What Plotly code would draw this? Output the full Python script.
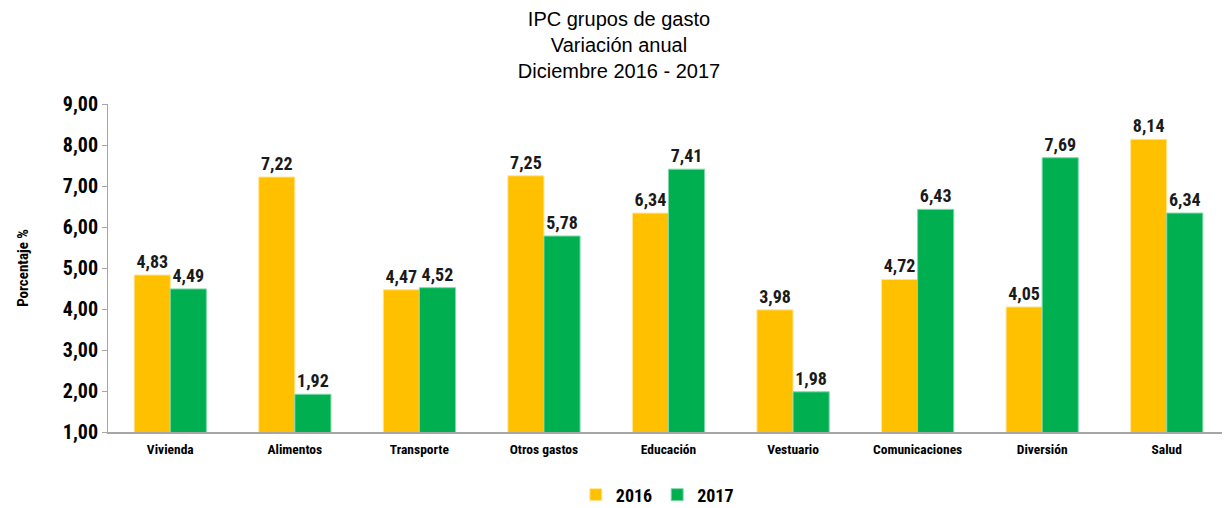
import plotly.graph_objects as go

categorias = ["Vivienda", "Alimentos", "Transporte", "Otros gastos", "Educación",
              "Vestuario", "Comunicaciones", "Diversión", "Salud"]
valores_2016 = [4.83, 7.22, 4.47, 7.25, 6.34, 3.98, 4.72, 4.05, 8.14]
valores_2017 = [4.49, 1.92, 4.52, 5.78, 7.41, 1.98, 6.43, 7.69, 6.34]
y_ticks = [1, 2, 3, 4, 5, 6, 7, 8, 9]

FONT = "Liberation Sans Narrow, Arial Narrow, Roboto Condensed, sans-serif"

fig = go.Figure()
fig.add_trace(go.Bar(
    x=categorias, y=valores_2016, name="2016",
    marker=dict(color="#FFC000", line=dict(color="#FFE699", width=1)),
    texttemplate="%{y:.2f}", textposition="outside", cliponaxis=False,
    textfont=dict(family=FONT, size=18, color="#1a1a1a", weight="bold"),
))
fig.add_trace(go.Bar(
    x=categorias, y=valores_2017, name="2017",
    marker=dict(color="#00B050", line=dict(color="#7FD8A7", width=1)),
    texttemplate="%{y:.2f}", textposition="outside", cliponaxis=False,
    textfont=dict(family=FONT, size=18, color="#1a1a1a", weight="bold"),
))

fig.update_layout(
    width=1222, height=500,
    separators=",.",
    barmode="group", bargap=0.42, bargroupgap=0,
    paper_bgcolor="white", plot_bgcolor="white",
    margin=dict(l=100, r=1, t=96, b=76, autoexpand=False),
    title=dict(
        text="IPC grupos de gasto<br>Variación anual<br>Diciembre 2016 - 2017",
        x=0.5, xanchor="center", y=0.964, yanchor="middle",
        font=dict(family="Liberation Sans, Arial, sans-serif", size=20, color="#000"),
    ),
    font=dict(family=FONT, color="#1a1a1a"),
    legend=dict(
        orientation="h", x=0.49, xanchor="center", y=-0.192, yanchor="middle",
        font=dict(family=FONT, size=18, color="#000", weight="bold"),
        itemwidth=30, traceorder="normal",
    ),
    showlegend=True,
)
fig.update_xaxes(
    showline=True, linecolor="#A6A6A6", linewidth=2, automargin=False,
    ticks="", tickfont=dict(family=FONT, size=13.5, color="#000", weight="bold"),
    ticklabelstandoff=4,
    showgrid=False,
)
fig.update_yaxes(
    range=[1, 9], tickvals=y_ticks, tickformat=".2f", automargin=False,
    showline=True, linecolor="#A6A6A6", linewidth=1,
    ticks="outside", ticklen=5, tickcolor="#A6A6A6",
    tickfont=dict(family=FONT, size=20, color="#000", weight="bold"),
    showgrid=False, zeroline=False,
    title=dict(text="Porcentaje %", font=dict(family=FONT, size=15, color="#000", weight="bold"), standoff=30),
)

fig.write_html("out.html")
